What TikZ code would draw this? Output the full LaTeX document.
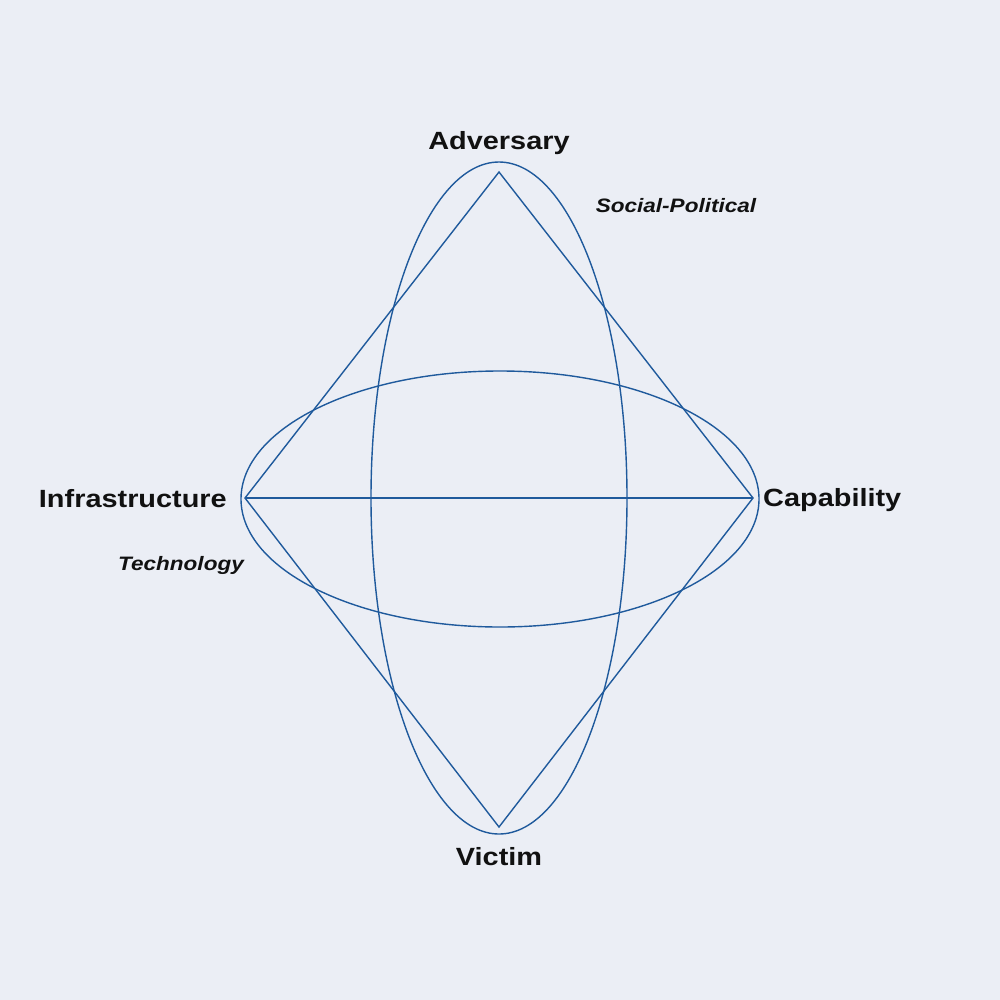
\documentclass[tikz,border=0pt]{standalone}
\usepackage{fontspec}
\setmainfont{Liberation Sans}[FakeStretch=1.16]
\begin{document}
\definecolor{bg}{HTML}{EBEEF5}
\definecolor{ln}{HTML}{1F5A9C}
\definecolor{tx}{HTML}{111111}
\begin{tikzpicture}[x=1bp,y=-1bp,
  edge/.style={draw=ln,line width=1.4bp,line join=miter},
  lab/.style={text=tx,font=\fontsize{25}{30}\selectfont\bfseries,inner sep=0pt},
  sub/.style={text=tx,font=\fontsize{19.5}{24}\selectfont\bfseries\itshape,inner sep=0pt}]
\fill[bg] (0,0) rectangle (1000,1000);
\useasboundingbox (0,0) rectangle (1000,1000);
\coordinate (A) at (499,172);
\coordinate (V) at (499,827);
\coordinate (I) at (245,498);
\coordinate (C) at (753,498);
\draw[edge] (499,498) ellipse [x radius=128, y radius=336];
\draw[edge] (500,499) ellipse [x radius=259, y radius=128];
\draw[edge] (A) -- (C) -- (V) -- (I) -- cycle;
\draw[edge] (I) -- (C);
\node[lab] (adv) at (499,143) {Adversary};
\node[lab] (vic) at (499,857) {Victim};
\node[lab,anchor=east] (inf) at (227,499) {Infrastructure};
\node[lab,anchor=west] (cap) at (763,500) {Capability};
\node[sub] (sp) at (676,206) {Social-Political};
\node[sub] (tec) at (181,565) {Technology};
\end{tikzpicture}
\end{document}
